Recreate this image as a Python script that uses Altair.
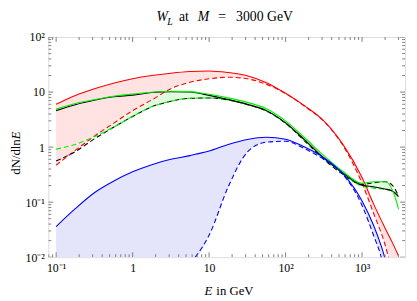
import altair as alt
import pandas as pd

# ---------------- data ----------------
E = [0.1, 0.178, 0.316, 0.562, 1.0, 1.78, 3.16, 5.62, 10, 17.8, 31.6, 56.2,
     100, 178, 316, 562, 1000, 1413, 1995, 2512, 3000]
red_solid = [6.0, 8.7, 11.5, 14.5, 17.5, 20.0, 22.0, 23.6, 24.2, 22.6, 19.8, 14.8,
             9.5, 5.6, 3.0, 1.12, 0.28, 0.093, 0.034, 0.018, 0.0105]
red_dashed = [0.47, 0.87, 1.58, 2.7, 4.6, 7.2, 11.5, 15.1, 17.4, 18.6, 17.4, 13.8,
              9.4, 5.5, 2.95, 1.07, 0.22, 0.063, 0.017, 0.005, 0.002]
black_solid = [4.6, 5.9, 7.1, 8.2, 8.8, 9.8, 10.2, 10.0, 8.7, 7.3, 6.0, 4.6,
               2.75, 1.35, 0.63, 0.34, 0.204, 0.19, 0.174, 0.158, 0.126]
green_solid = [4.9, 6.2, 7.3, 8.4, 9.2, 9.9, 10.35, 10.2, 9.1, 7.85, 6.5, 5.0,
               3.0, 1.48, 0.70, 0.36, 0.22, 0.234, 0.234, 0.162, 0.075]
black_dashed = [0.56, 0.83, 1.41, 2.29, 3.6, 5.4, 6.8, 7.7, 7.8, 7.2, 5.9, 4.5,
                2.7, 1.29, 0.60, 0.32, 0.21, 0.225, 0.235, 0.2, 0.128]
green_dashed = [0.92, 1.12, 1.55, 2.29, 3.6, 5.4, 6.8, 7.7, 7.8, 7.2, 5.95, 4.55,
                2.75, 1.32, 0.63, 0.33, 0.195, 0.18, 0.17, 0.158, 0.13]

E_blue = [0.1, 0.178, 0.316, 0.562, 1.0, 1.78, 3.16, 5.62, 6.6, 10, 17.8, 31.6,
          56.2, 100, 178, 316, 562, 1000, 1413, 1778, 1995]
blue_solid = [0.036, 0.076, 0.148, 0.24, 0.355, 0.48, 0.60, 0.70, 0.74, 0.85, 1.12,
              1.38, 1.51, 1.39, 1.0, 0.645, 0.33, 0.105, 0.038, 0.016, 0.0095]
blue_dashed = [None, None, None, None, None, None, None, None, 0.01, 0.025, 0.19,
               0.81, 1.23, 1.28, 0.93, 0.60, 0.32, 0.087, 0.025, 0.01, 0.005]

x_major = [0.1, 1, 10, 100, 1000]
x_minor = [0.08, 0.09] + [m * d for d in (0.1, 1, 10, 100) for m in range(2, 10)] + [2000, 3000]
y_major = [0.01, 0.1, 1, 10, 100]
y_minor = [m * d for d in (0.01, 0.1, 1, 10) for m in range(2, 10)]

X_DOMAIN = [0.079, 3650]
Y_DOMAIN = [0.01, 100]

W, H = 363, 224
FRAME = "#808080"
SERIF = "Liberation Serif"
GREEN = "#00F000"

# ---------------- frames ----------------
main = pd.DataFrame({"E": E, "rs": red_solid, "rd": red_dashed, "ks": black_solid,
                     "gs": green_solid, "kd": black_dashed, "gd": green_dashed})
blue = pd.DataFrame({"E": E_blue, "bs": blue_solid, "bd": blue_dashed})
blue["bfloor"] = blue["bd"].fillna(Y_DOMAIN[0])

xs = alt.Scale(type="log", domain=X_DOMAIN, nice=False)
ys = alt.Scale(type="log", domain=Y_DOMAIN, nice=False)

x_axis = alt.Axis(values=x_major, ticks=False, domain=False, grid=False, title=None,
                  labelFont=SERIF, labelFontSize=12, labelColor="black", labelPadding=6,
                  labelFlush=False, labelOverlap=False,
                  labelExpr="datum.value < 0.5 ? '10⁻¹' : datum.value < 5 ? '1' : "
                            "datum.value < 50 ? '10' : datum.value < 500 ? '10²' : '10³'")
y_axis = alt.Axis(values=y_major, ticks=False, domain=False, grid=False, title=None,
                  labelFont=SERIF, labelFontSize=12, labelColor="black", labelPadding=4,
                  labelFlush=False, labelOverlap=False,
                  labelExpr="datum.value < 0.05 ? '10⁻²' : datum.value < 0.5 ? '10⁻¹' : "
                            "datum.value < 5 ? '1' : datum.value < 50 ? '10' : '10²'")

def X(field="E"):
    return alt.X(f"{field}:Q", scale=xs, axis=x_axis)

def Y(field):
    return alt.Y(f"{field}:Q", scale=ys, axis=y_axis)

def area(df, lo, hi, color):
    return alt.Chart(df).mark_area(color=color, opacity=1, clip=True,
                                   interpolate="monotone").encode(
        x=X(), y=Y(hi), y2=alt.Y2(f"{lo}:Q"))

def line(df, field, color, dashed=False):
    kw = dict(color=color, strokeWidth=1.1, clip=True, interpolate="monotone")
    if dashed:
        kw["strokeDash"] = [5, 3]
    return alt.Chart(df).mark_line(**kw).encode(x=X(), y=Y(field))

layers = [
    area(main, "gd", "gs", "#E0FBE0"),
    area(main, "rd", "rs", "#FFE2E2"),
    area(blue, "bfloor", "bs", "#E4E4FA"),
    line(main, "rd", "#FF0000", True),
    line(main, "rs", "#FF0000"),
    line(main, "kd", "#000000", True),
    line(main, "gd", GREEN, True),
    line(main, "ks", "#000000"),
    line(main, "gs", GREEN),
    line(blue, "bd", "#0000FF", True),
    line(blue, "bs", "#0000FF"),
]

# ---------------- inward ticks on all four sides ----------------
def xticks(vals, length):
    d = pd.DataFrame({"t": vals})
    base = alt.Chart(d).mark_rule(color=FRAME, strokeWidth=1, clip=True)
    return [base.encode(x=X("t"), y=alt.value(H), y2=alt.value(H - length)),
            base.encode(x=X("t"), y=alt.value(0), y2=alt.value(length))]

def yticks(vals, length):
    d = pd.DataFrame({"t": vals})
    base = alt.Chart(d).mark_rule(color=FRAME, strokeWidth=1, clip=True)
    return [base.encode(y=Y("t"), x=alt.value(0), x2=alt.value(length)),
            base.encode(y=Y("t"), x=alt.value(W), x2=alt.value(W - length))]

layers += xticks(x_major, 5) + xticks(x_minor, 3)
layers += yticks(y_major, 5) + yticks(y_minor, 3)

# ---------------- texts (title and axis titles) ----------------
def txt(s, x, y, size, italic=False, align="left", angle=0, baseline="alphabetic"):
    kw = dict(text=s, font=SERIF, fontSize=size, color="black", align=align,
              baseline=baseline)
    if italic:
        kw["fontStyle"] = "italic"
    if angle:
        kw["angle"] = angle
    return alt.Chart(pd.DataFrame({"a": [0]})).mark_text(**kw).encode(
        x=alt.value(x), y=alt.value(y))

TS = 14
tx, ty = 110, -16
layers += [
    txt("W", tx, ty, TS, italic=True),
    txt("L", tx + 11, ty + 4, 10, italic=True),
    txt("at", tx + 23, ty, TS),
    txt("M", tx + 42, ty, TS, italic=True),
    txt("=", tx + 63, ty, TS),
    txt("3000 GeV", tx + 81, ty, TS),
    txt("E", 167, 262, 13, italic=True, align="right"),
    txt("in GeV", 171, 262, 13),
    txt("dN/dln", -33, 104, 13, align="right", angle=270, baseline="middle"),
    txt("E", -33, 104, 13, italic=True, align="left", angle=270, baseline="middle"),
]

chart = alt.layer(*layers).properties(
    width=W, height=H,
    autosize=alt.AutoSizeParams(type="none"),
    padding={"left": 41, "top": 27, "right": 4, "bottom": 40},
).configure_view(stroke=FRAME, strokeWidth=1).configure(background="white")

chart.save("out.html", embed_options={"renderer": "svg", "actions": False})
